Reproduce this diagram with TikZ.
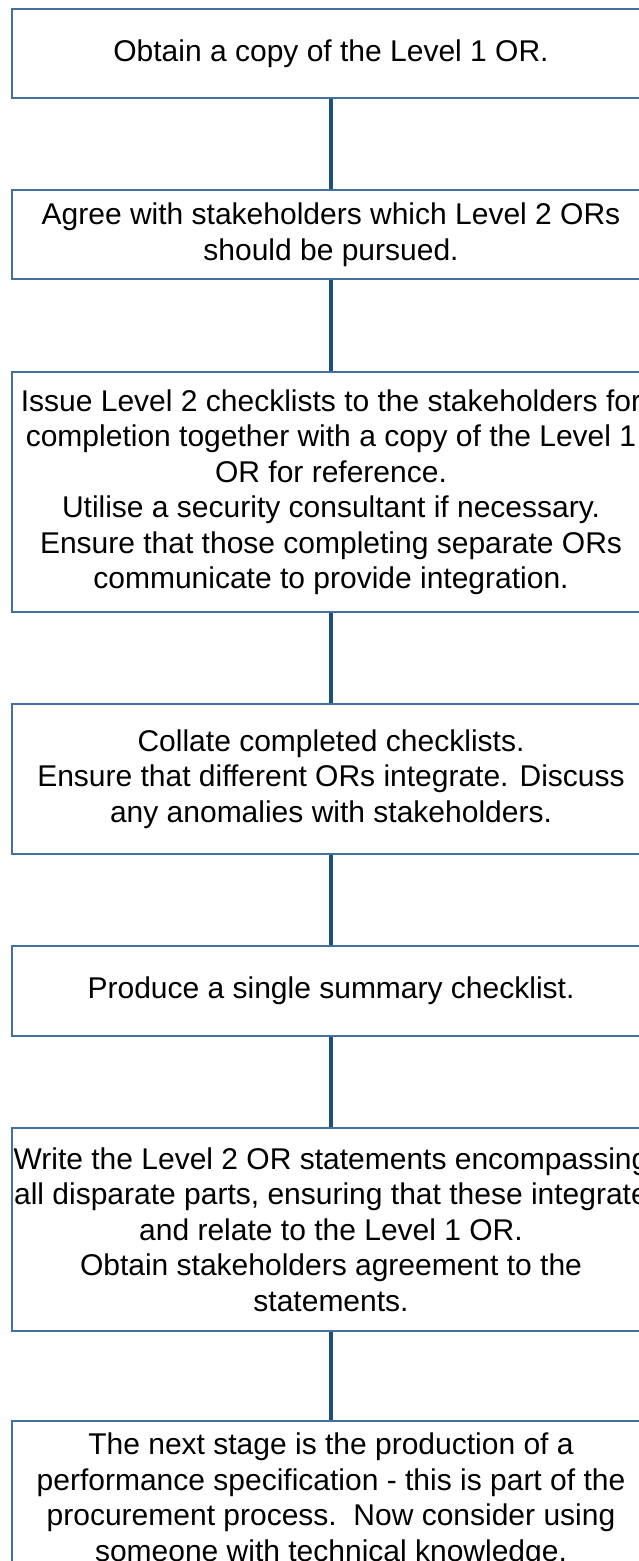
\documentclass[tikz,border=0pt]{standalone}
\usepackage{fontspec}
\setmainfont{Liberation Sans}
\definecolor{boxc}{HTML}{41719C}
\definecolor{connc}{HTML}{1F4E79}
\begin{document}
\begin{tikzpicture}[x=1pt,y=-1pt,
  stepbox/.style={draw=boxc,line width=1.5pt,fill=white,minimum width=638pt,
    inner sep=0pt,align=center,font=\fontsize{30}{35.5}\selectfont,text=black},
  conn/.style={draw=connc,line width=4pt}]
\useasboundingbox (0,0) rectangle (639,1561);
\clip (0,0) rectangle (639,1561);
\node[stepbox,minimum height=89pt] (b1) at (331,53.5) {Obtain a copy of the Level 1 OR.};
\node[stepbox,minimum height=89pt] (b2) at (331,234.5) {Agree with stakeholders which Level 2 ORs\\should be pursued.};
\node[stepbox,minimum height=240pt] (b3) at (331,492) {Issue Level 2 checklists to the stakeholders for\\completion together with a copy of the Level 1\\OR for reference.\\Utilise a security consultant if necessary.\\Ensure that those completing separate ORs\\communicate to provide integration.};
\node[stepbox,minimum height=150pt] (b4) at (331,779) {Collate completed checklists.\\Ensure that different ORs integrate. Discuss\\any anomalies with stakeholders.};
\node[stepbox,minimum height=90pt] (b5) at (331,991) {Produce a single summary checklist.};
\node[stepbox,minimum height=203pt] (b6) at (331,1229.5) {Write the Level 2 OR statements encompassing\\all disparate parts, ensuring that these integrate\\and relate to the Level 1 OR.\\Obtain stakeholders agreement to the\\statements.};
\node[stepbox,minimum height=158pt] (b7) at (331,1500) {The next stage is the production of a\\performance specification - this is part of the\\procurement process.\ \ Now consider using\\someone with technical knowledge.};
\draw[conn] (b1.south) -- (b2.north);
\draw[conn] (b2.south) -- (b3.north);
\draw[conn] (b3.south) -- (b4.north);
\draw[conn] (b4.south) -- (b5.north);
\draw[conn] (b5.south) -- (b6.north);
\draw[conn] (b6.south) -- (b7.north);
\end{tikzpicture}
\end{document}
